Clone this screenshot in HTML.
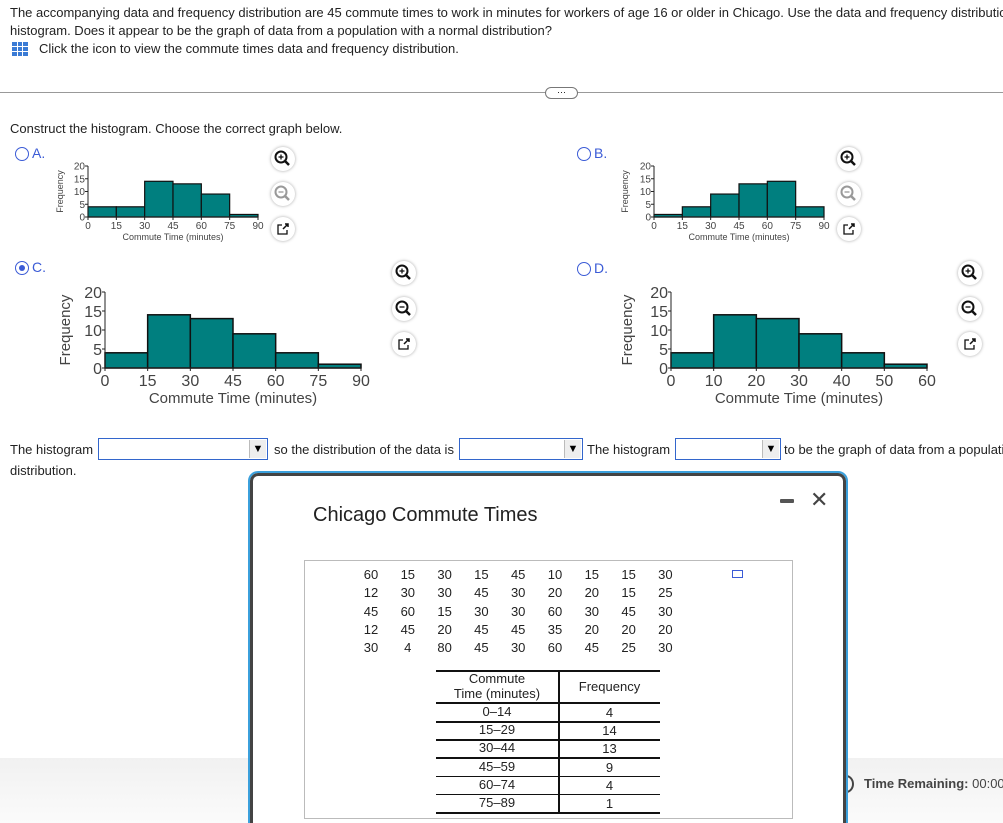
<!DOCTYPE html>
<html><head><meta charset="utf-8"><style>
html,body{margin:0;padding:0}
body{width:1003px;height:823px;overflow:hidden;background:#fff;font-family:"Liberation Sans",Arial,sans-serif;color:#000}
#root{position:relative;width:1003px;height:823px;overflow:hidden}
.a{position:absolute;white-space:nowrap}
.t13{font-size:13px}
.clip{overflow:hidden}
.radio{position:absolute;width:14px;height:14px;border:1.5px solid #3b5bd6;border-radius:50%;box-sizing:border-box}
.radio.on::after{content:"";position:absolute;left:2.5px;top:2.5px;width:6px;height:6px;border-radius:50%;background:#3b5bd6}
.lbl{position:absolute;color:#3b5bd6;font-size:14px}
.icon{position:absolute;width:24px;height:24px;border-radius:50%;background:#fff;box-shadow:0 0 3px rgba(0,0,0,.35)}
.sel{position:absolute;height:22px;border:1px solid #3366cc;background:#fff;box-sizing:border-box}
.sel .ar{position:absolute;right:1px;top:1px;width:16px;height:18px;background:#eee;border-left:1px solid #bbb;font-size:11px;text-align:center;line-height:18px}
svg text{font-family:"Liberation Sans",Arial,sans-serif}
</style></head><body><div id="root">
<div class="a t13 clip" style="left:10px;top:4px;width:993px;line-height:18px;color:#222">The accompanying data and frequency distribution are 45 commute times to work in minutes for workers of age 16 or older in Chicago. Use the data and frequency distribution to construct a<br>histogram. Does it appear to be the graph of data from a population with a normal distribution?</div>
<svg class="a" style="left:12px;top:42px" width="16" height="14"><rect x="0" y="0" width="16" height="14" fill="#3a7bd5"/><g stroke="#fff" stroke-width="1"><line x1="0" y1="4.5" x2="16" y2="4.5"/><line x1="0" y1="9.5" x2="16" y2="9.5"/><line x1="5.5" y1="0" x2="5.5" y2="14"/><line x1="10.5" y1="0" x2="10.5" y2="14"/></g></svg>
<div class="a t13" style="left:39px;top:41px;color:#222">Click the icon to view the commute times data and frequency distribution.</div>
<div class="a" style="left:0;top:92px;width:1003px;height:1px;background:#999"></div>
<div class="a" style="left:545px;top:87px;width:31px;height:10px;border:1px solid #777;border-radius:6px;background:#fff;font-size:9px;line-height:8px;text-align:center">···</div>
<div class="a t13" style="left:10px;top:121px;color:#222">Construct the histogram. Choose the correct graph below.</div>

<div class="radio" style="left:15px;top:147px"></div><div class="lbl" style="left:32px;top:145px">A.</div>
<div class="radio" style="left:577px;top:147px"></div><div class="lbl" style="left:594px;top:145px">B.</div>
<div class="radio on" style="left:15px;top:261px"></div><div class="lbl" style="left:32px;top:259px">C.</div>
<div class="radio" style="left:577px;top:262px"></div><div class="lbl" style="left:594px;top:260px">D.</div>

<svg id="charts" class="a" style="left:0;top:0" width="1003" height="430"></svg>

<div class="a t13" style="left:10px;top:442px;color:#222">The histogram</div>
<div class="sel" style="left:98px;top:438px;width:170px"><div class="ar">▼</div></div>
<div class="a t13" style="left:274px;top:442px;color:#222">so the distribution of the data is</div>
<div class="sel" style="left:459px;top:438px;width:124px"><div class="ar">▼</div></div>
<div class="a t13" style="left:587px;top:442px;color:#222">The histogram</div>
<div class="sel" style="left:675px;top:438px;width:106px"><div class="ar">▼</div></div>
<div class="a t13 clip" style="left:784px;top:442px;width:219px;color:#222">to be the graph of data from a population with a normal</div>
<div class="a t13" style="left:10px;top:463px;color:#222">distribution.</div>

<div class="a" style="left:0;top:758px;width:1003px;height:65px;background:linear-gradient(#f1f1f1,#fbfbfb)"></div>
<div class="a" style="left:838px;top:775px;width:12px;height:14px;border:2px solid #444;border-radius:50%"></div>
<div class="a clip" style="left:864px;top:776px;width:139px;font-size:13px;color:#444"><b>Time Remaining:</b> 00:00</div>

<div class="a" style="left:250px;top:473px;width:596px;height:380px;border:3px solid #444;outline:2px solid #3ba0dc;border-radius:8px;background:#fff;box-sizing:border-box"></div>
<div class="a" style="left:313px;top:504px;font-size:20px;color:#222">Chicago Commute Times</div>
<div class="a" style="left:780px;top:499px;width:14px;height:4px;background:#555;border-radius:1px"></div>
<div class="a" style="left:810px;top:487px;font-size:22px;color:#444">✕</div>
<div class="a" style="left:304px;top:560px;width:489px;height:259px;border:1px solid #bbb;box-sizing:border-box"></div>
<div class="a" style="left:732px;top:570px;width:9px;height:6px;border:1.5px solid #3b5bd6"></div>
<div id="grid"></div>
<div id="ftab"></div>
</div>
<script>
const binEdges=[0,15,30,45,60,75,90];
const freqA=[4,4,14,13,9,1];
const freqB=[1,4,9,13,14,4];
const freqC=[4,14,13,9,4,1];
const freqD=[4,14,13,9,4,1];
const ticksStd=[0,15,30,45,60,75,90];
const ticksD=[0,10,20,30,40,50,60];
const yTicks=[0,5,10,15,20];
const rawData=[[60,15,30,15,45,10,15,15,30],[12,30,30,45,30,20,20,15,25],[45,60,15,30,30,60,30,45,30],[12,45,20,45,45,35,20,20,20],[30,4,80,45,30,60,45,25,30]];
const classes=["0\u201314","15\u201329","30\u201344","45\u201359","60\u201374","75\u201389"];
const classFreq=[4,14,13,9,4,1];

const root=document.getElementById('root');
const NS="http://www.w3.org/2000/svg";
const svg=document.getElementById('charts');
function mk(tag,at,par){const e=document.createElementNS(NS,tag);for(const k in at)e.setAttribute(k,at[k]);(par||svg).appendChild(e);return e;}
function chart(name,freq,ticks,xMax,g){
 const grp=mk('g',{});
 
 
 const sx=v=>g.x0+(v/xMax)*(g.x1-g.x0);
 const sy=v=>g.y0-(v/20)*(g.y0-g.y20);
 freq.forEach((f,i)=>{
  const a=binEdges[i]/90*xMax,b=binEdges[i+1]/90*xMax;
  const r=mk('rect',{x:sx(a),y:sy(f),width:sx(b)-sx(a),height:sy(0)-sy(f),fill:'#007f7f',stroke:'#111','stroke-width':g.sw},grp);
  
  
 });
 mk('line',{x1:g.x0,y1:g.y0,x2:g.x1,y2:g.y0,stroke:'#222','stroke-width':1.2},grp);
 mk('line',{x1:g.x0,y1:g.y0,x2:g.x0,y2:g.y20,stroke:'#222','stroke-width':1},grp);
 ticks.forEach(t=>{
  mk('line',{x1:sx(t),y1:g.y0,x2:sx(t),y2:g.y0+3,stroke:'#222'},grp);
  const tx=mk('text',{x:sx(t),y:g.y0+g.fs+2,'font-size':g.fs,'text-anchor':'middle',fill:'#444'},grp);tx.textContent=t;
 });
 yTicks.forEach(t=>{
  mk('line',{x1:g.x0-3,y1:sy(t),x2:g.x0,y2:sy(t),stroke:'#222'},grp);
  const tx=mk('text',{x:g.x0-3,y:sy(t)+g.fs*0.36,'font-size':g.fs,'text-anchor':'end',fill:'#444'},grp);tx.textContent=t;
 });
 const xt=mk('text',{x:(g.x0+g.x1)/2,y:g.y0+g.fs*2+3,'font-size':g.tf,'text-anchor':'middle',fill:'#444'},grp);xt.textContent='Commute Time (minutes)';
 const yl=mk('text',{x:0,y:0,'font-size':g.tf,'text-anchor':'middle',fill:'#444',transform:`translate(${g.yx},${(g.y0+g.y20)/2}) rotate(-90)`},grp);yl.textContent='Frequency';
}
const small={y0:217,y20:166,fs:10,tf:9,sw:1.2};
chart('histogram-a',freqA,ticksStd,90,Object.assign({x0:88,x1:258,yx:63},small));
chart('histogram-b',freqB,ticksStd,90,Object.assign({x0:654,x1:824,yx:628},small));
const big={y0:368,y20:292,fs:16,tf:15,sw:1.5};
chart('histogram-c',freqC,ticksStd,90,Object.assign({x0:105,x1:361,yx:70},big));
chart('histogram-d',freqD,ticksD,60,Object.assign({x0:671,x1:927,yx:632},big));

function icons(x,ys,pre){
 ['zoom-in','zoom-out','popout'].forEach((n,i)=>{
  const d=document.createElement('div');d.className='icon';d.style.left=(x-12)+'px';d.style.top=(ys[i]-12)+'px';
  
  
  const grey=i==1&&(pre.endsWith('a')||pre.endsWith('b'));
  const c=grey?'#999':'#111';
  d.innerHTML=i<2?`<svg width="24" height="24"><circle cx="10" cy="10" r="5.5" fill="none" stroke="${c}" stroke-width="2"/><line x1="14" y1="14" x2="18" y2="18" stroke="${c}" stroke-width="2.5"/><line x1="7.5" y1="10" x2="12.5" y2="10" stroke="${c}" stroke-width="1.3"/>${i==0?'<line x1="10" y1="7.5" x2="10" y2="12.5" stroke="#111" stroke-width="1.3"/>':''}</svg>`:`<svg width="24" height="24"><path d="M11 8H7v9h9v-4" fill="none" stroke="#111" stroke-width="1.3"/><path d="M12 12l5-5M14 7h3v3" fill="none" stroke="#111" stroke-width="1.5"/></svg>`;
  root.appendChild(d);
 });
}
icons(283,[159,194,229],'option-a');
icons(849,[159,194,229],'option-b');
icons(404,[273,309,344],'option-c');
icons(970,[273,309,344],'option-d');

const grid=document.getElementById('grid');
rawData.forEach((row,r)=>row.forEach((v,c)=>{
 const d=document.createElement('div');d.className='a';
 d.style.cssText=`left:${371+c*36.8-15}px;top:${567+r*18.3}px;width:30px;text-align:center;font-size:13px;color:#222`;
 d.textContent=v;
 
 
 grid.appendChild(d);
}));
const ft=document.getElementById('ftab');
function cell(x,y,w,t,extra){const d=document.createElement('div');d.className='a';d.style.cssText=`left:${x}px;top:${y}px;width:${w}px;text-align:center;font-size:13px;color:#222;${extra||''}`;d.innerHTML=t;ft.appendChild(d);return d;}
function hl(y){const d=document.createElement('div');d.className='a';d.style.cssText=`left:436px;top:${y}px;width:224px;height:1.5px;background:#111`;ft.appendChild(d);}
hl(670);hl(702);
const vd=document.createElement('div');vd.className='a';vd.style.cssText='left:558px;top:670px;width:1.5px;height:143px;background:#111';ft.appendChild(vd);
const h1=cell(436,671,122,'Commute<br>Time (minutes)','line-height:15px');


const h2=cell(559,679,101,'Frequency');


classes.forEach((c,i)=>{
 const y=703+i*18.2;
 const a=cell(436,y+1,122,c);
 
 
 const b=cell(559,y+2,101,classFreq[i]);
 
 
 hl(y+18);
});
</script>
</body></html>
